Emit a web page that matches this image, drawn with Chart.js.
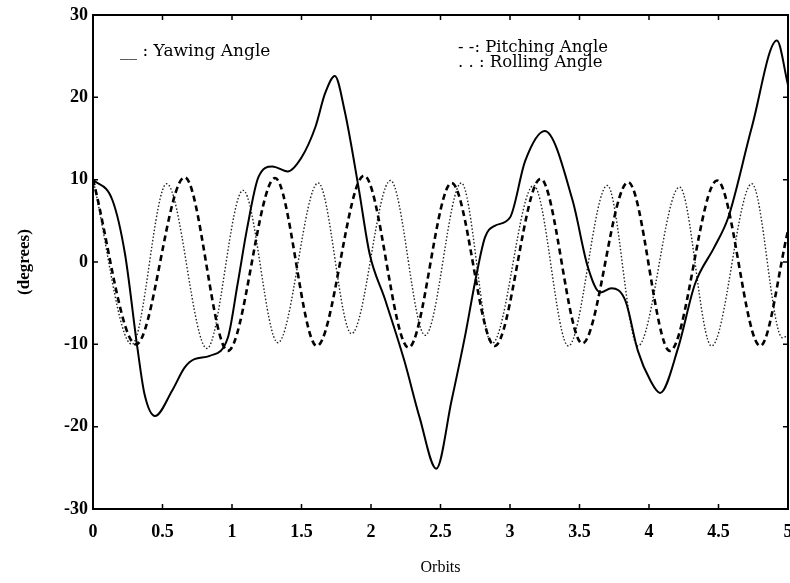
<!DOCTYPE html>
<html>
<head>
<meta charset="utf-8">
<script src="https://cdn.jsdelivr.net/npm/chart.js@4/dist/chart.umd.min.js"></script>
<style>
  html, body { margin: 0; padding: 0; background: #fff; overflow: hidden; width: 790px; height: 583px; }
  canvas { display: block; }
</style>
</head>
<body>
<canvas id="c" width="800" height="583" style="width:800px;height:583px"></canvas>
<script>
// ---- data ----
const yawT = [0, 0.14, 0.23, 0.32, 0.37, 0.446, 0.57, 0.66, 0.73, 0.84, 0.97, 1.04, 1.11, 1.19, 1.29, 1.40, 1.50, 1.60, 1.67, 1.74, 1.81, 1.91, 1.99, 2.10, 2.24, 2.35, 2.47, 2.58, 2.68, 2.75, 2.82, 2.89, 3.0, 3.11, 3.25, 3.45, 3.56, 3.65, 3.73, 3.83, 3.92, 4.01, 4.08, 4.21, 4.33, 4.47, 4.57, 4.74, 4.92, 5.0];
const yawV = [10, 7.5, 1.0, -10.5, -16, -18.7, -15.6, -12.8, -11.8, -11.4, -9.2, -2.7, 4.2, 10.3, 11.6, 11.0, 12.7, 16.4, 20.5, 22.6, 18.4, 9.1, 1.0, -4.5, -12, -18.9, -25.1, -16.8, -8.7, -2.3, 3.0, 4.4, 5.4, 12.3, 15.9, 7.5, -0.6, -3.7, -3.2, -4.7, -10.8, -14.4, -15.9, -10.4, -2.7, 1.8, 5.4, 16.4, 26.9, 21.5];

const pitchT = [0, 0.31, 0.66, 0.97, 1.31, 1.61, 1.95, 2.27, 2.58, 2.89, 3.22, 3.52, 3.85, 4.15, 4.49, 4.80, 5.0];
const pitchV = [10, -10, 10.3, -10.8, 10.2, -10.2, 10.5, -10.4, 9.6, -10.2, 10.1, -9.9, 9.7, -10.8, 9.9, -10.2, 3.8];

const rollT = [0, 0.28, 0.53, 0.82, 1.08, 1.33, 1.62, 1.86, 2.14, 2.39, 2.65, 2.87, 3.17, 3.42, 3.70, 3.92, 4.22, 4.45, 4.74, 4.96, 5.0];
const rollV = [10, -10, 9.5, -10.5, 8.7, -9.8, 9.6, -8.7, 9.9, -8.9, 9.6, -9.9, 9.3, -10.2, 9.3, -10.2, 9.1, -10.2, 9.5, -9.2, -8.9];

const xTickLabels = ['0', '0.5', '1', '1.5', '2', '2.5', '3', '3.5', '4', '4.5', '5'];
const yTickLabels = ['-30', '-20', '-10', '0', '10', '20', '30'];

const legendYaw = '__ : Yawing Angle';
const legendPitch = '- -: Pitching Angle';
const legendRoll = '. . : Rolling Angle';
const xTitle = 'Orbits';
const yTitle = '(degrees)';

// ---- build ----
const zip = (t, v) => t.map((x, i) => ({ x: x, y: v[i] }));
const SERIF = '"Liberation Serif", "DejaVu Serif", serif';
const LEGEND_FONT = '"DejaVu Serif", "Liberation Serif", serif';

const framePlugin = {
  id: 'frame',
  afterDatasetsDraw(chart) {
    const { ctx, chartArea: a, scales } = chart;
    ctx.save();
    ctx.strokeStyle = '#000';
    ctx.lineWidth = 1.5;
    const L = 5;
    ctx.beginPath();
    scales.x.ticks.forEach(t => {
      const px = scales.x.getPixelForValue(t.value);
      ctx.moveTo(px, a.bottom); ctx.lineTo(px, a.bottom - L);
      ctx.moveTo(px, a.top); ctx.lineTo(px, a.top + L);
    });
    scales.y.ticks.forEach(t => {
      const py = scales.y.getPixelForValue(t.value);
      ctx.moveTo(a.left, py); ctx.lineTo(a.left + L, py);
      ctx.moveTo(a.right, py); ctx.lineTo(a.right - L, py);
    });
    ctx.stroke();
    ctx.lineWidth = 2;
    ctx.strokeRect(a.left, a.top, a.right - a.left, a.bottom - a.top);

    // legend text
    ctx.fillStyle = '#000';
    ctx.textBaseline = 'alphabetic';
    ctx.textAlign = 'left';
    ctx.font = '17px ' + LEGEND_FONT;
    ctx.fillText(legendYaw, a.left + 27, a.top + 41);
    ctx.font = '16.5px ' + LEGEND_FONT;
    ctx.fillText(legendPitch, a.left + 365, a.top + 37);
    ctx.fillText(legendRoll, a.left + 365, a.top + 52);
    ctx.restore();
  }
};

new Chart(document.getElementById('c'), {
  type: 'line',
  data: {
    datasets: [
      { label: 'Yawing Angle', data: zip(yawT, yawV), borderColor: '#000', borderWidth: 2, pointRadius: 0, cubicInterpolationMode: 'monotone', fill: false },
      { label: 'Pitching Angle', data: zip(pitchT, pitchV), borderColor: '#000', borderWidth: 2.6, borderDash: [6, 4], pointRadius: 0, cubicInterpolationMode: 'monotone', fill: false },
      { label: 'Rolling Angle', data: zip(rollT, rollV), borderColor: '#222', borderWidth: 1.4, borderDash: [1.5, 2], pointRadius: 0, cubicInterpolationMode: 'monotone', fill: false }
    ]
  },
  options: {
    responsive: false,
    animation: false,
    events: [],
    layout: { padding: { left: 0, top: 15, right: 12, bottom: 0 } },
    plugins: { legend: { display: false }, tooltip: { enabled: false } },
    scales: {
      x: {
        type: 'linear', min: 0, max: 5,
        grid: { display: false, drawTicks: false },
        border: { display: false },
        ticks: {
          stepSize: 0.5, padding: 13, color: '#000', maxRotation: 0, autoSkip: false,
          font: { family: SERIF, size: 18, weight: 'bold' },
          callback: (v) => { const i = Math.round(v / 0.5); return xTickLabels[i] !== undefined ? xTickLabels[i] : ''; }
        },
        title: { display: true, text: xTitle, color: '#000', font: { family: SERIF, size: 16 }, padding: { top: 0, bottom: 6 } },
        afterFit: (s) => { s.height = 74; s.paddingLeft = 0; s.paddingRight = 0; }
      },
      y: {
        type: 'linear', min: -30, max: 30,
        grid: { display: false, drawTicks: false },
        border: { display: false },
        ticks: {
          stepSize: 10, padding: 5, color: '#000',
          font: { family: SERIF, size: 18, weight: 'bold' },
          callback: (v) => { const i = Math.round((v + 30) / 10); return yTickLabels[i] !== undefined ? yTickLabels[i] : ''; }
        },
        title: { display: true, text: yTitle, color: '#000', font: { family: SERIF, size: 17, weight: 'bold' }, padding: { top: 14, bottom: 0 } },
        afterFit: (s) => { s.width = 93; s.paddingTop = 0; s.paddingBottom = 0; }
      }
    }
  },
  plugins: [framePlugin]
});
</script>
</body>
</html>
